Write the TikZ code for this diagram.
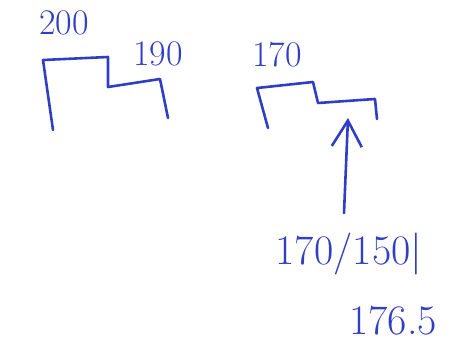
\documentclass[tikz,border=0pt]{standalone}
\usepackage{fontspec}
\usepackage{tikz}
\usetikzlibrary{positioning, arrows.meta}

\definecolor{ink}{RGB}{48,62,196}
\tikzset{
  pen/.style={draw=ink, line width=2.6pt, line join=round, line cap=round},
  note/.style={text=ink, inner sep=0pt, font=\fontsize{36}{36}\selectfont\addfontfeatures{LetterSpace=8}}
}

\begin{document}
\begin{tikzpicture}[x=1pt, y=-1pt]
            \useasboundingbox (0,0) rectangle (450,350);
            % first step profile
            \draw[pen] (53,130) -- (43,60) -- (108,57) -- (108,87) -- (160,79) -- (168,118);
            \node[note] (hiA) at (64,23) {200};
            \node[note] (loA) at (158,54) {190};
            % second step profile
            \draw[pen] (268,128) -- (257,88) -- (313,82) -- (318,103) -- (375,99) -- (377,119);
            \node[note] (hiB) at (277,55) {170};
            % arrow from the values up to the step
            \node[note, font=\fontsize{42}{42}\selectfont\addfontfeatures{LetterSpace=10}] (ratio) at (349,254) {170/150|};
            \node[note, font=\fontsize{42}{42}\selectfont\addfontfeatures{LetterSpace=10}] (mean) at (393,321) {176.5};
            \coordinate (tail) at (344,213);
            \coordinate (tip) at (348,118);
            \draw[pen, -{Straight Barb[length=26pt, width=30pt, line width=2.6pt]}] (tail) -- (tip);
        \end{tikzpicture}
\end{document}
